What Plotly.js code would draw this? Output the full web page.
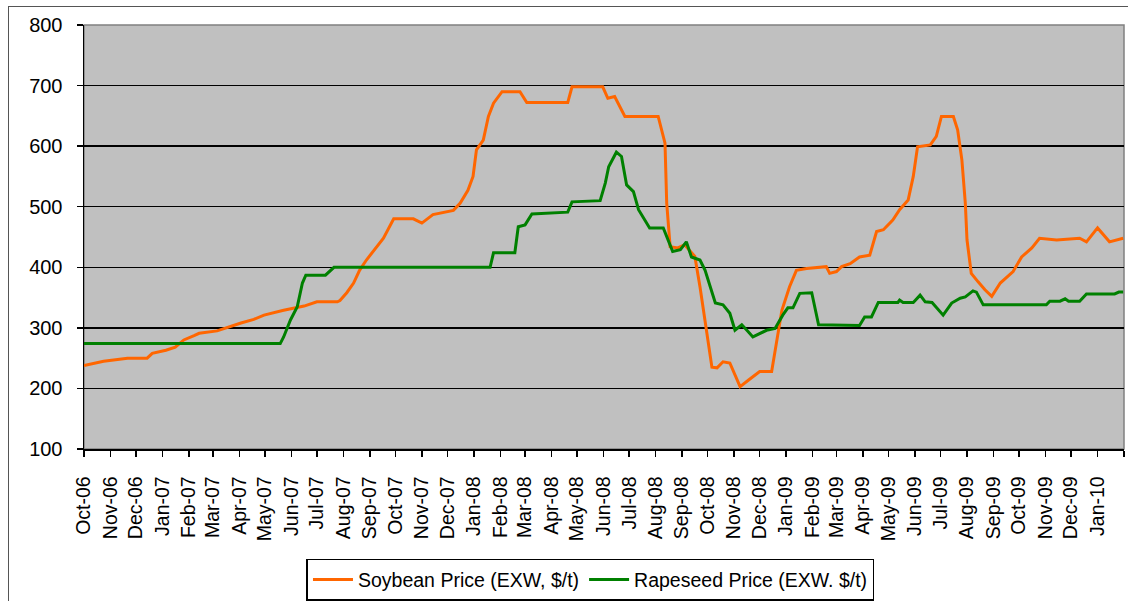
<!DOCTYPE html>
<html>
<head>
<meta charset="utf-8">
<script src="https://cdn.plot.ly/plotly-3.0.1.min.js"></script>
<style>
  html, body { margin: 0; padding: 0; background: #ffffff; }
  #frame { position: absolute; left: 8px; top: 6px; width: 1130px; height: 600px; border-left: 1px solid #555; border-top: 1px solid #555; }
  #chart { position: absolute; left: 0; top: 0; width: 1128px; height: 601px; }
</style>
</head>
<body>
<div id="frame"></div>
<div id="chart"></div>
<script>
// Soybean price (EXW, $/t)
const soyDates = ["2006-10-01","2006-10-24","2006-11-21","2006-12-14","2006-12-20","2007-01-05","2007-01-16","2007-01-26","2007-02-07","2007-02-13","2007-03-06","2007-03-18","2007-04-03","2007-04-18","2007-04-30","2007-05-23","2007-06-16","2007-07-01","2007-07-25","2007-07-28","2007-08-05","2007-08-13","2007-08-20","2007-08-28","2007-09-05","2007-09-17","2007-09-29","2007-10-22","2007-11-01","2007-11-14","2007-12-08","2007-12-16","2007-12-25","2007-12-31","2008-01-04","2008-01-12","2008-01-18","2008-01-24","2008-02-03","2008-02-24","2008-03-03","2008-04-20","2008-04-25","2008-05-31","2008-06-06","2008-06-14","2008-06-26","2008-08-04","2008-08-12","2008-08-14","2008-08-18","2008-08-27","2008-09-04","2008-09-16","2008-09-22","2008-09-30","2008-10-06","2008-10-12","2008-10-19","2008-10-27","2008-11-08","2008-11-18","2008-12-01","2008-12-15","2008-12-21","2008-12-27","2009-01-05","2009-01-13","2009-01-25","2009-02-17","2009-02-21","2009-03-01","2009-03-07","2009-03-17","2009-03-28","2009-04-09","2009-04-17","2009-04-25","2009-05-06","2009-05-14","2009-05-24","2009-05-30","2009-06-04","2009-06-19","2009-06-26","2009-07-02","2009-07-16","2009-07-21","2009-07-26","2009-07-30","2009-08-01","2009-08-06","2009-08-14","2009-08-22","2009-08-30","2009-09-09","2009-09-24","2009-10-04","2009-10-16","2009-10-25","2009-11-14","2009-12-11","2009-12-19","2010-01-01","2010-01-15","2010-01-31"];
const soyValues = [238,245,250,250,258,263,268,280,287,291,295,301,308,314,321,329,336,343,343,345,358,374,395,412,426,448,480,480,473,487,494,506,527,550,594,610,649,671,690,690,672,672,698,698,679,682,649,649,605,506,434,432,437,418,368,296,235,234,244,242,203,214,228,228,275,329,368,395,398,401,390,393,401,406,417,420,459,462,478,495,511,550,599,602,616,649,649,627,577,506,445,390,376,363,352,374,393,417,432,448,445,448,442,465,442,448];

// Rapeseed price (EXW, $/t)
const rapeDates = ["2006-10-01","2007-05-19","2007-05-23","2007-05-31","2007-06-08","2007-06-14","2007-06-18","2007-07-11","2007-07-21","2008-01-20","2008-01-24","2008-02-18","2008-02-22","2008-03-01","2008-03-09","2008-04-20","2008-04-25","2008-05-28","2008-06-03","2008-06-07","2008-06-16","2008-06-22","2008-06-28","2008-07-06","2008-07-12","2008-07-25","2008-08-10","2008-08-21","2008-08-30","2008-09-06","2008-09-12","2008-09-22","2008-09-28","2008-10-10","2008-10-19","2008-10-27","2008-11-02","2008-11-10","2008-11-16","2008-11-23","2008-12-09","2008-12-19","2008-12-28","2009-01-03","2009-01-09","2009-01-17","2009-01-31","2009-02-06","2009-02-08","2009-03-28","2009-04-03","2009-04-11","2009-04-19","2009-05-12","2009-05-14","2009-05-18","2009-05-30","2009-06-07","2009-06-13","2009-06-21","2009-07-04","2009-07-14","2009-07-24","2009-07-30","2009-08-08","2009-08-12","2009-08-20","2009-11-02","2009-11-06","2009-11-18","2009-11-24","2009-11-28","2009-12-11","2009-12-19","2010-01-21","2010-01-26","2010-01-31"];
const rapeValues = [274,274,285,313,335,374,387,387,400,400,424,424,467,470,488,491,508,510,539,566,590,583,536,525,495,465,465,426,429,442,417,412,395,341,338,324,296,305,296,285,296,299,321,333,333,357,358,318,305,304,318,318,342,342,346,342,342,354,343,342,321,341,349,351,361,359,338,338,344,344,348,344,344,356,356,359,359];

// Axis ticks
const tickDates = ["2006-10-01","2006-11-01","2006-12-01","2007-01-01","2007-02-01","2007-03-01","2007-04-01","2007-05-01","2007-06-01","2007-07-01","2007-08-01","2007-09-01","2007-10-01","2007-11-01","2007-12-01","2008-01-01","2008-02-01","2008-03-01","2008-04-01","2008-05-01","2008-06-01","2008-07-01","2008-08-01","2008-09-01","2008-10-01","2008-11-01","2008-12-01","2009-01-01","2009-02-01","2009-03-01","2009-04-01","2009-05-01","2009-06-01","2009-07-01","2009-08-01","2009-09-01","2009-10-01","2009-11-01","2009-12-01","2010-01-01","2010-02-01"];
const tickLabels = ["Oct-06","Nov-06","Dec-06","Jan-07","Feb-07","Mar-07","Apr-07","May-07","Jun-07","Jul-07","Aug-07","Sep-07","Oct-07","Nov-07","Dec-07","Jan-08","Feb-08","Mar-08","Apr-08","May-08","Jun-08","Jul-08","Aug-08","Sep-08","Oct-08","Nov-08","Dec-08","Jan-09","Feb-09","Mar-09","Apr-09","May-09","Jun-09","Jul-09","Aug-09","Sep-09","Oct-09","Nov-09","Dec-09","Jan-10",""];
const yTicks = [100,200,300,400,500,600,700,800];

const FONT = '"Liberation Sans", Arial, sans-serif';

const traces = [
  { x: soyDates, y: soyValues, type: 'scatter', mode: 'lines', name: 'Soybean Price (EXW, $/t)',
    line: { color: '#FF6600', width: 3, shape: 'linear' } },
  { x: rapeDates, y: rapeValues, type: 'scatter', mode: 'lines', name: 'Rapeseed Price (EXW. $/t)',
    line: { color: '#008000', width: 3, shape: 'linear' } }
];

const layout = {
  width: 1128, height: 601,
  margin: { l: 84, r: 4, t: 25, b: 152, autoexpand: false },
  paper_bgcolor: 'rgba(0,0,0,0)',
  plot_bgcolor: '#C0C0C0',
  font: { family: FONT, color: '#000', size: 18 },
  showlegend: true,
  legend: {
    orientation: 'h', x: 0.487, xanchor: 'center', y: -0.259, yanchor: 'top',
    bgcolor: '#ffffff', bordercolor: '#000', borderwidth: 1.5,
    font: { family: FONT, size: 19.5, color: '#000' },
    itemwidth: 40, tracegroupgap: 0
  },
  xaxis: {
    type: 'date', range: ['2006-10-01', '2010-02-01'],
    tickmode: 'array', tickvals: tickDates, ticktext: tickLabels,
    tickangle: -90, ticks: 'outside', ticklen: 6, tickwidth: 1.5, tickcolor: '#000',
    showgrid: false, showline: true, linecolor: '#000', linewidth: 1.5,
    tickfont: { family: FONT, size: 19.5, color: '#000' }, ticklabelstandoff: 12,
    zeroline: false, fixedrange: true, automargin: false
  },
  yaxis: {
    range: [100, 800], tickmode: 'array', tickvals: yTicks, ticktext: yTicks.map(String),
    ticks: 'outside', ticklen: 6, tickwidth: 1.5, tickcolor: '#000',
    showgrid: true, gridcolor: '#000', gridwidth: 1.5,
    showline: true, linecolor: '#000', linewidth: 1.5,
    tickfont: { family: FONT, size: 20, color: '#000' }, ticklabelstandoff: 10,
    zeroline: false, fixedrange: true, automargin: false
  },
  shapes: [
    { type: 'rect', xref: 'paper', yref: 'paper', x0: 0, x1: 1, y0: 0, y1: 1,
      line: { color: '#808080', width: 1.5 }, fillcolor: 'rgba(0,0,0,0)', layer: 'below' }
  ]
};

Plotly.newPlot('chart', traces, layout, { displayModeBar: false, staticPlot: true });
</script>
</body>
</html>
